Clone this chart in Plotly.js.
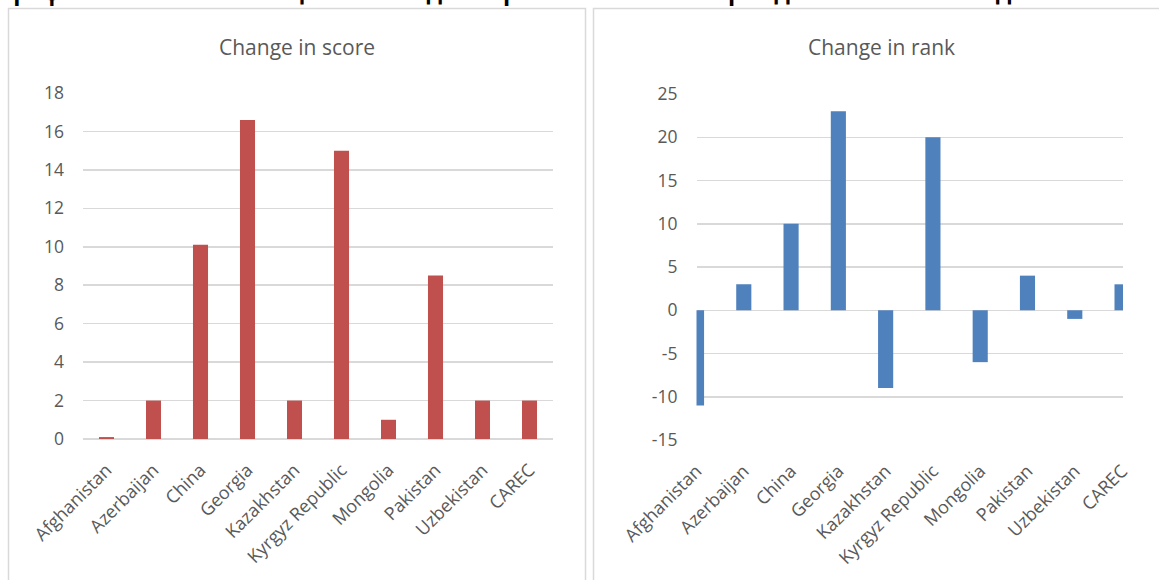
<!DOCTYPE html>
<html>
<head>
<meta charset="utf-8">
<script src="https://cdn.plot.ly/plotly-3.0.1.min.js"></script>
<style>html,body{margin:0;padding:0;background:#fff;}#chart{width:1159px;height:580px;}</style>
</head>
<body>
<div id="chart"></div>
<script>
const categories = ["Afghanistan","Azerbaijan","China","Georgia","Kazakhstan","Kyrgyz Republic","Mongolia","Pakistan","Uzbekistan","CAREC"];
const scoreChange = [0.1, 2, 10.1, 16.6, 2, 15, 1, 8.5, 2, 2];
const rankChange = [-11, 3, 10, 23, -9, 20, -6, 4, -1, 3];
const scoreTicks = [0,2,4,6,8,10,12,14,16,18];
const scoreTickText = ["0","2","4","6","8","10","12","14","16","18"];
const rankTicks = [-15,-10,-5,0,5,10,15,20,25];
const rankTickText = ["-15","-10","-5","0","5","10","15","20","25"];
const pageTitle = "График 5: Изменение оценки и индекса рейтинга DBS в период с 2017 по 2020 год";
const leftTitle = "Change in score";
const rightTitle = "Change in rank";

const W = 1159, H = 580;
const px = v => v / W;
const py = v => 1 - v / H;
const FONT = "Open Sans, sans-serif";
const TXT = "#595959";
const GRID = "#D9D9D9";

const traces = [
  {type:"bar", x:categories, y:scoreChange, xaxis:"x", yaxis:"y", marker:{color:"#C0504D"}, hoverinfo:"x+y"},
  {type:"bar", x:categories, y:rankChange, xaxis:"x2", yaxis:"y2", marker:{color:"#4F81BD"}, hoverinfo:"x+y"}
];

const xCommon = {type:"category", tickangle:-45, showgrid:false, zeroline:false, showline:false, ticks:"",
  tickfont:{family:FONT, size:18, color:TXT}, ticklabelstandoff:16, ticklabelshift:0, fixedrange:true};
const yCommon = {showgrid:true, gridcolor:GRID, gridwidth:1.5, zeroline:true, zerolinecolor:GRID, zerolinewidth:1.5,
  showline:false, ticks:"", tickmode:"array", tickfont:{family:FONT, size:17.5, color:TXT}, ticklabelstandoff:18, fixedrange:true};

const layout = {
  width:W, height:H, margin:{l:0,r:0,t:0,b:0}, paper_bgcolor:"#fff", plot_bgcolor:"rgba(0,0,0,0)",
  showlegend:false, bargap:0.68,
  font:{family:FONT, color:TXT},
  xaxis:Object.assign({}, xCommon, {domain:[px(83), px(553)], anchor:"y", range:[-0.5, 9.5]}),
  yaxis:Object.assign({}, yCommon, {domain:[py(439), py(93)], anchor:"x", range:[0,18], tickvals:scoreTicks, ticktext:scoreTickText}),
  xaxis2:Object.assign({}, xCommon, {domain:[px(696.5), px(1123)], anchor:"y2", range:[0, 9.02]}),
  yaxis2:Object.assign({}, yCommon, {domain:[py(440), py(94)], anchor:"x2", range:[-15,25], tickvals:rankTicks, ticktext:rankTickText}),
  shapes:[
    {type:"rect", xref:"paper", yref:"paper", x0:px(8.5), x1:px(585.5), y0:-0.2, y1:py(8.5), line:{color:GRID, width:1.5}, fillcolor:"rgba(0,0,0,0)", layer:"below"},
    {type:"rect", xref:"paper", yref:"paper", x0:px(593.5), x1:1.2, y0:-0.2, y1:py(8.5), line:{color:GRID, width:1.5}, fillcolor:"rgba(0,0,0,0)", layer:"below"}
  ],
  annotations:[
    {text:leftTitle, xref:"paper", yref:"paper", x:px(297), y:py(47), xanchor:"center", yanchor:"middle", showarrow:false,
     font:{family:FONT, size:21, color:TXT}},
    {text:rightTitle, xref:"paper", yref:"paper", x:px(882), y:py(47), xanchor:"center", yanchor:"middle", showarrow:false,
     font:{family:FONT, size:21, color:TXT}},
    {text:"<b>"+pageTitle+"</b>", xref:"paper", yref:"paper", x:px(-2), y:py(-9.5), xanchor:"left", yanchor:"middle", showarrow:false,
     font:{family:FONT, size:23.5, color:"#000"}}
  ]
};

Plotly.newPlot("chart", traces, layout, {displayModeBar:false, staticPlot:true});
</script>
</body>
</html>
